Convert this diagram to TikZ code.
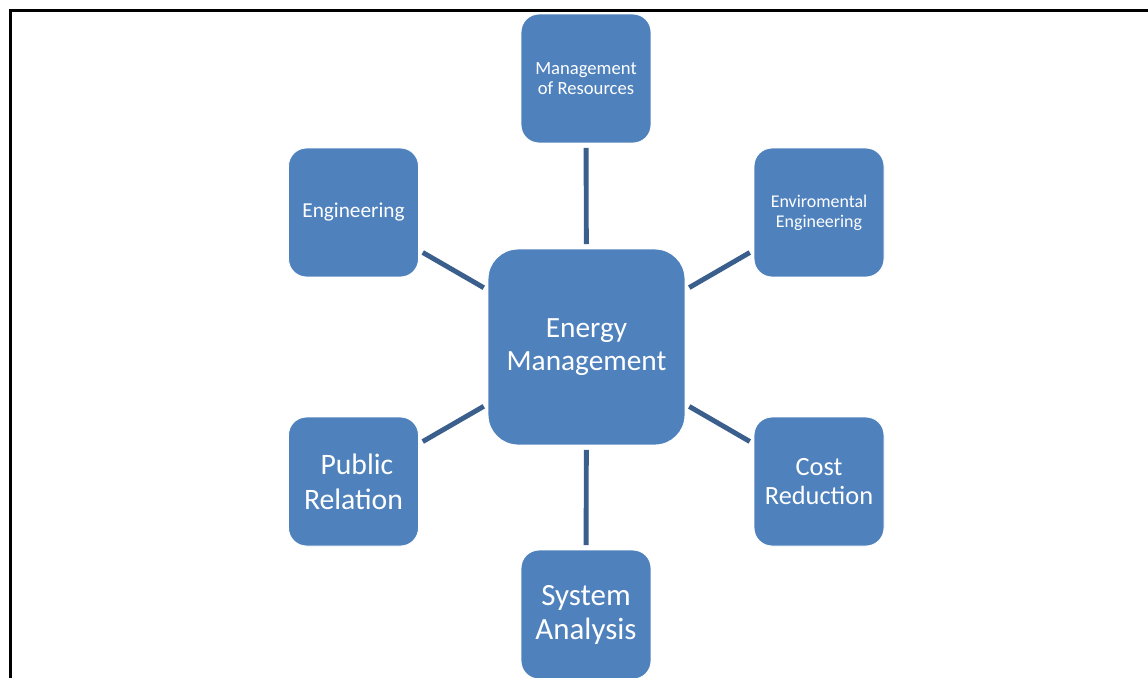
\documentclass[tikz,border=0pt]{standalone}
\usepackage{fontspec}
\setmainfont{Carlito}
\definecolor{boxblue}{RGB}{79,129,189}
\definecolor{linkblue}{RGB}{58,95,140}

\begin{document}
\begin{tikzpicture}[x=0.02cm, y=-0.02cm,
	every node/.style={text=white, align=center},
	topic/.style={rectangle, rounded corners=0.36cm, fill=boxblue, draw=white, line width=0.5pt, minimum width=2.6cm, minimum height=2.58cm, inner sep=2pt},
	hub/.style={topic, rounded corners=0.6cm, minimum width=3.94cm, minimum height=3.92cm},
	link/.style={draw=linkblue, line width=2.8pt, shorten <=2.5pt, shorten >=2.5pt}]
	\useasboundingbox (0,0) rectangle (1148,677);
	\clip (0,0) rectangle (1148,677);
	% frame: only its top and left edges fall on the page
	\draw[line width=1.2pt] (10.5,690) -- (10.5,10.5) -- (1160,10.5);
	% hub and the six topics round it
	\node[hub, font=\fontsize{16.7}{18.6}\selectfont] (em) at (586.5,347) {Energy\\Management};
	\node[topic, font=\fontsize{10.6}{11.4}\selectfont] (res) at (586,78.5) {Management\\of Resources};
	\node[topic, font=\fontsize{12.1}{13}\selectfont] (eng) at (353.5,212.5) {Engineering};
	\node[topic, font=\fontsize{10.2}{11.4}\selectfont] (env) at (819,212.5) {Enviromental\\Engineering};
	\node[topic, font=\fontsize{16.9}{19.8}\selectfont] (pr) at (353.5,481.5) {\ Public\\Relation};
	\node[topic, font=\fontsize{15}{17}\selectfont] (cost) at (819,481.5) {Cost\\Reduction};
	\node[topic, font=\fontsize{17.6}{19.3}\selectfont] (sys) at (586,614.5) {System\\Analysis};
	\foreach \t in {res,env,cost,sys,pr,eng}
		\draw[link] (em) -- (\t);
\end{tikzpicture}
\end{document}
